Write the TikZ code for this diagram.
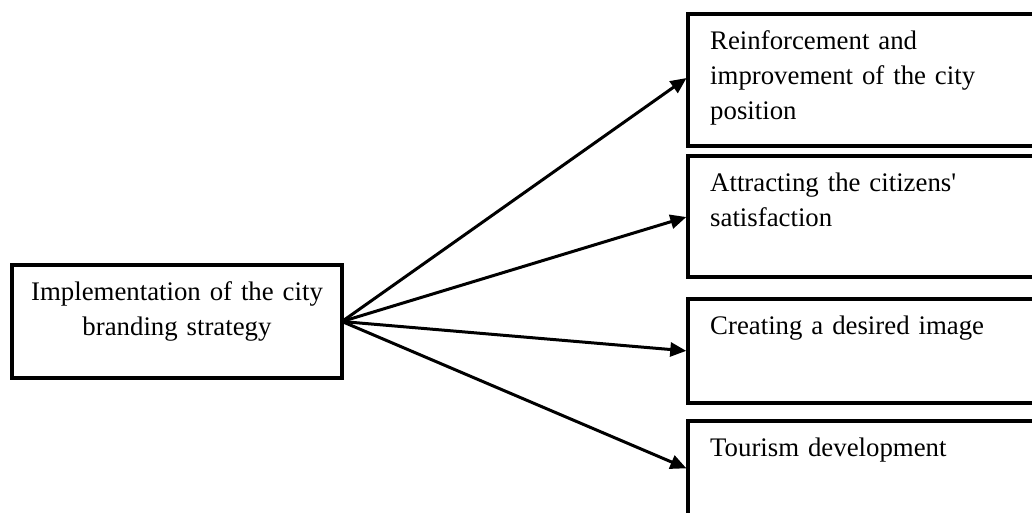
\documentclass[tikz,border=0pt]{standalone}
\usepackage{fontspec}
\setmainfont{Liberation Serif}
\usetikzlibrary{arrows.meta}

\begin{document}
\begin{tikzpicture}[x=1pt, y=-1pt,
  box/.style={draw, line width=3.5pt, inner sep=0pt, outer sep=0pt},
  txt/.style={inner sep=0pt, font=\fontsize{26.8}{35}\selectfont},
  arr/.style={-{Triangle[length=16pt, width=14pt]}, line width=3pt, shorten >=1.75pt}
]
  \useasboundingbox (0,0) rectangle (1032,512);
  \clip (0,0) rectangle (1032,512);
  % strategy box
  \node[box, minimum width=330pt, minimum height=113pt] (impl) at (177,321.5) {};
  \node[txt, text width=330pt, align=center, anchor=north] (implT)
    at ([yshift=-10.5pt]impl.north) {\strut Implementation of the city\\ branding strategy};
  % outcome boxes (cut at the right edge)
  \node[box, minimum width=360pt, minimum height=132pt, anchor=north west] (pos) at (688,14) {};
  \node[box, minimum width=360pt, minimum height=121pt, anchor=north west] (sat) at (688,156) {};
  \node[box, minimum width=360pt, minimum height=104pt, anchor=north west] (img) at (688,299) {};
  \node[box, minimum width=360pt, minimum height=96pt, anchor=north west] (tour) at (688,421) {};
  \node[txt, text width=320pt, align=left, anchor=north west] (posT)
    at ([shift={(22pt,-10.5pt)}]pos.north west) {\strut Reinforcement and\\ improvement of the city\\ position};
  \node[txt, text width=320pt, align=left, anchor=north west] (satT)
    at ([shift={(22pt,-10.5pt)}]sat.north west) {\strut Attracting the citizens\textquotesingle\\ satisfaction};
  \node[txt, text width=320pt, align=left, anchor=north west] (imgT)
    at ([shift={(22pt,-10.5pt)}]img.north west) {\strut Creating a desired image};
  \node[txt, text width=320pt, align=left, anchor=north west] (tourT)
    at ([shift={(22pt,-10.5pt)}]tour.north west) {\strut Tourism development};
  % arrows
  \draw[arr] (impl.east) -- ([yshift=3pt]pos.west);
  \draw[arr] (impl.east) -- (sat.west);
  \draw[arr] (impl.east) -- (img.west);
  \draw[arr] (impl.east) -- (tour.west);
\end{tikzpicture}
\end{document}
